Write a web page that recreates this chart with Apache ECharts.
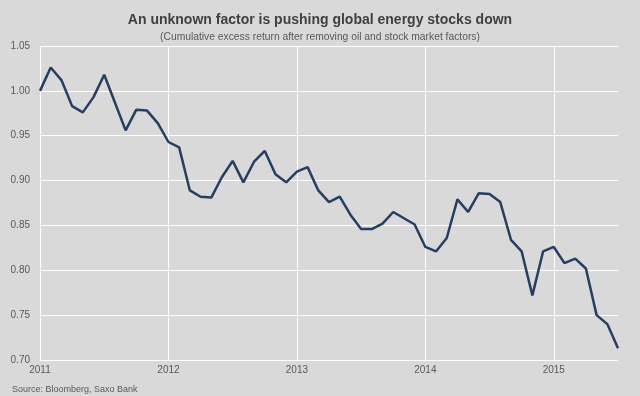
<!DOCTYPE html>
<html>
<head>
<meta charset="utf-8">
<script src="https://cdn.jsdelivr.net/npm/echarts@6/dist/echarts.min.js"></script>
<style>
    html, body { margin: 0; padding: 0; background: #d9d9d9; }
    #chart { width: 640px; height: 396px; }
</style>
</head>
<body>
<div id="chart"></div>
<script>
// monthly points, Jan 2011 .. Jul 2015
var months = [
    '2011-01', '2011-02', '2011-03', '2011-04', '2011-05', '2011-06', '2011-07', '2011-08', '2011-09', '2011-10', '2011-11', '2011-12',
    '2012-01', '2012-02', '2012-03', '2012-04', '2012-05', '2012-06', '2012-07', '2012-08', '2012-09', '2012-10', '2012-11', '2012-12',
    '2013-01', '2013-02', '2013-03', '2013-04', '2013-05', '2013-06', '2013-07', '2013-08', '2013-09', '2013-10', '2013-11', '2013-12',
    '2014-01', '2014-02', '2014-03', '2014-04', '2014-05', '2014-06', '2014-07', '2014-08', '2014-09', '2014-10', '2014-11', '2014-12',
    '2015-01', '2015-02', '2015-03', '2015-04', '2015-05', '2015-06', '2015-07'
];
var excessReturn = [
    1.000, 1.026, 1.012, 0.983, 0.976, 0.993, 1.018, 0.987, 0.956, 0.979, 0.978, 0.964,
    0.943, 0.937, 0.889, 0.882, 0.881, 0.904, 0.922, 0.898, 0.921, 0.933, 0.907, 0.898,
    0.910, 0.915, 0.889, 0.876, 0.882, 0.862, 0.846, 0.846, 0.852, 0.865, 0.858, 0.851,
    0.826, 0.821, 0.836, 0.879, 0.865, 0.886, 0.885, 0.876, 0.834, 0.821, 0.772, 0.821,
    0.826, 0.808, 0.813, 0.802, 0.750, 0.740, 0.713
];
var yTicks = [0.70, 0.75, 0.80, 0.85, 0.90, 0.95, 1.00, 1.05];

var myChart = echarts.init(document.getElementById('chart'));
var option = {
    backgroundColor: '#d9d9d9',
    animation: false,
    title: [{
        text: 'An unknown factor is pushing global energy stocks down',
        left: 'center',
        top: 8,
        textStyle: { fontFamily: 'Liberation Sans', fontSize: 14, fontWeight: 'bold', color: '#404040' }
    }, {
        text: '(Cumulative excess return after removing oil and stock market factors)',
        left: 'center',
        top: 27,
        textStyle: { fontFamily: 'Liberation Sans', fontSize: 10.3, fontWeight: 'normal', color: '#595959' }
    }, {
        text: 'Source: Bloomberg, Saxo Bank',
        left: 7,
        top: 380,
        textStyle: { fontFamily: 'Liberation Sans', fontSize: 9, fontWeight: 'normal', color: '#595959' }
    }],
    grid: { left: 40, right: 22, top: 46, bottom: 36 },
    xAxis: {
        type: 'category',
        boundaryGap: false,
        data: months,
        axisLine: { show: true, lineStyle: { color: '#ffffff', width: 1 } },
        axisTick: { show: false },
        axisLabel: {
            interval: function (index) { return index % 12 === 0; },
            formatter: function (v) { return v.slice(0, 4); },
            fontFamily: 'Liberation Sans',
            fontSize: 10,
            color: '#595959',
            margin: 5
        },
        splitLine: {
            show: true,
            interval: function (index) { return index % 12 === 0; },
            lineStyle: { color: '#ffffff', width: 1 }
        }
    },
    yAxis: {
        type: 'value',
        min: yTicks[0],
        max: yTicks[yTicks.length - 1],
        interval: 0.05,
        axisLine: { show: false },
        axisTick: { show: false },
        axisLabel: {
            formatter: function (v) { return v.toFixed(2); },
            fontFamily: 'Liberation Sans',
            fontSize: 10,
            color: '#595959',
            margin: 10
        },
        splitLine: { lineStyle: { color: '#ffffff', width: 1 } }
    },
    series: [{
        type: 'line',
        data: excessReturn,
        symbol: 'none',
        lineStyle: { color: '#253f62', width: 2.5 }
    }]
};
myChart.setOption(option);
</script>
</body>
</html>
